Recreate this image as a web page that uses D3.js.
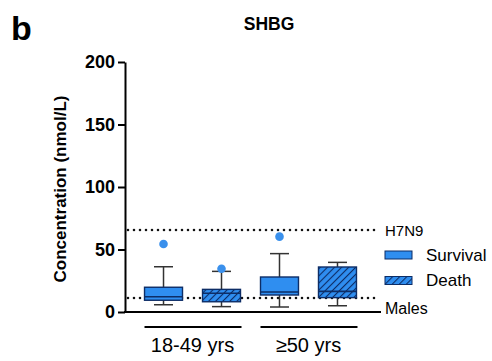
<!DOCTYPE html>
<html>
<head>
<meta charset="utf-8">
<script src="https://cdn.jsdelivr.net/npm/d3@7"></script>
<style>
  body { margin: 0; background: #fff; }
  text { font-family: Arial, "Liberation Sans", sans-serif; }
</style>
</head>
<body>
<div id="chart"></div>
<script>
// box stats (nmol/L)
var groups = ["18-49 yrs", "\u226550 yrs"]
var outcomes = ["Survival", "Death"]
var boxMin = [5.8, 4.3, 4.0, 5.0]
var boxQ1 = [9.4, 8.2, 13.6, 11.5]
var boxMedian = [12.2, 15.0, 16.0, 16.5]
var boxQ3 = [19.8, 18.1, 28.0, 36.0]
var boxMax = [36.2, 32.5, 46.7, 39.7]
var outliers = [54.4, 34.6, 60.3, null]
var yTicks = [0, 50, 100, 150, 200]
var refLines = [{ name: "H7N9", value: 65.6 }, { name: "Males", value: 11.2 }]

var boxes = boxMin.map((d, i) => ({
    key: i,
    group: groups[Math.floor(i / 2)],
    outcome: outcomes[i % 2],
    min: d, q1: boxQ1[i], med: boxMedian[i], q3: boxQ3[i], max: boxMax[i],
    out: outliers[i]
}))

const W = 492, H = 361
const svg = d3.select("#chart").append("svg")
    .attr("width", W)
    .attr("height", H)

const defs = svg.append("defs")
const pat = defs.append("pattern")
    .attr("id", "hatch")
    .attr("patternUnits", "userSpaceOnUse")
    .attr("width", 5).attr("height", 5)
    .attr("patternTransform", "rotate(45)")
pat.append("rect").attr("width", 5).attr("height", 5).attr("fill", "#2f8ef0")
pat.append("line").attr("x1", 0).attr("y1", 0).attr("x2", 0).attr("y2", 5)
    .attr("stroke", "#0d2d66").attr("stroke-width", 2.2)

const fillBlue = "#2f8ef0", edge = "#0d2d66"

const y = d3.scaleLinear().domain([0, 200]).range([312, 62])
// one band per box
const x = d3.scaleBand().domain(boxes.map(d => d.key)).range([136, 365])
    .paddingInner(0.345).paddingOuter(0.147)
const bw = x.bandwidth()

// panel letter + title
svg.append("text").attr("x", 11).attr("y", 40).attr("font-size", 34).attr("font-weight", "bold").text("b")
svg.append("text").attr("x", 269).attr("y", 30).attr("text-anchor", "middle")
    .attr("font-size", 17.5).attr("font-weight", "bold").text("SHBG")

// reference lines
svg.selectAll(".ref").data(refLines).join("line")
    .attr("x1", 128).attr("x2", 380)
    .attr("y1", d => y(d.value)).attr("y2", d => y(d.value))
    .attr("stroke", "#111").attr("stroke-width", 2.6)
    .attr("stroke-linecap", "round")
    .attr("stroke-dasharray", "0,6")

// y axis
const yAxis = svg.append("g").attr("transform", "translate(125,0)")
    .call(d3.axisLeft(y).tickValues(yTicks).tickSize(7).tickSizeOuter(0))
yAxis.select(".domain").attr("stroke", "#000").attr("stroke-width", 2)
yAxis.selectAll(".tick line").attr("stroke", "#000").attr("stroke-width", 2)
yAxis.selectAll(".tick text").attr("font-size", 18).attr("font-weight", "bold")
    .attr("font-family", "Arial, 'Liberation Sans', sans-serif").attr("fill", "#000").attr("x", -10)

// x axis baseline
svg.append("line").attr("x1", 124).attr("x2", 381).attr("y1", y(0)).attr("y2", y(0))
    .attr("stroke", "#000").attr("stroke-width", 2)

svg.append("text")
    .attr("transform", `translate(66,${y(100) + 2}) rotate(-90)`)
    .attr("text-anchor", "middle").attr("font-size", 17).attr("font-weight", "bold")
    .text("Concentration (nmol/L)")

// boxes
const cx = d => x(d.key) + bw / 2
const g = svg.selectAll(".box").data(boxes).join("g").attr("class", "box")

g.append("line").attr("x1", cx).attr("x2", cx)
    .attr("y1", d => y(d.max)).attr("y2", d => y(d.q3))
    .attr("stroke", "#333").attr("stroke-width", 1.5)
g.append("line").attr("x1", cx).attr("x2", cx)
    .attr("y1", d => y(d.q1)).attr("y2", d => y(d.min))
    .attr("stroke", "#333").attr("stroke-width", 1.5)
g.append("line").attr("x1", d => cx(d) - bw * 0.25).attr("x2", d => cx(d) + bw * 0.25)
    .attr("y1", d => y(d.max)).attr("y2", d => y(d.max))
    .attr("stroke", "#333").attr("stroke-width", 1.5)
g.append("line").attr("x1", d => cx(d) - bw * 0.25).attr("x2", d => cx(d) + bw * 0.25)
    .attr("y1", d => y(d.min)).attr("y2", d => y(d.min))
    .attr("stroke", "#333").attr("stroke-width", 1.5)
g.append("rect")
    .attr("x", d => x(d.key)).attr("width", bw)
    .attr("y", d => y(d.q3)).attr("height", d => y(d.q1) - y(d.q3))
    .attr("fill", d => d.outcome == "Death" ? "url(#hatch)" : fillBlue)
    .attr("stroke", edge).attr("stroke-width", 1.4)
g.append("line").attr("x1", d => x(d.key)).attr("x2", d => x(d.key) + bw)
    .attr("y1", d => y(d.med)).attr("y2", d => y(d.med))
    .attr("stroke", edge).attr("stroke-width", 1.6)
g.filter(d => d.out != null).append("circle")
    .attr("cx", cx).attr("cy", d => y(d.out)).attr("r", 4.3)
    .attr("fill", "#3a90ec")

// group brackets, centred under each pair of boxes
const groupCenter = gname => d3.mean(boxes.filter(b => b.group == gname), cx)
const gl = svg.selectAll(".grp").data(groups).join("g")
gl.append("line")
    .attr("x1", d => groupCenter(d) - 48).attr("x2", d => groupCenter(d) + 49)
    .attr("y1", 327).attr("y2", 327).attr("stroke", "#000").attr("stroke-width", 2)
gl.append("text").attr("x", d => groupCenter(d)).attr("y", 352)
    .attr("text-anchor", "middle").attr("font-size", 20).text(d => d)

// legend
svg.append("text").attr("x", 385).attr("y", 236).attr("font-size", 15).text(refLines[0].name)
svg.append("text").attr("x", 385).attr("y", 314).attr("font-size", 16).text(refLines[1].name)
const lg = svg.selectAll(".leg").data(outcomes).join("g")
    .attr("transform", (d, i) => `translate(385,${251 + i * 25.5})`)
lg.append("rect").attr("width", 27).attr("height", 8)
    .attr("fill", d => d == "Death" ? "url(#hatch)" : fillBlue)
    .attr("stroke", edge).attr("stroke-width", 1)
lg.append("text").attr("x", 41).attr("y", 9.5).attr("font-size", 17).text(d => d)
</script>
</body>
</html>
